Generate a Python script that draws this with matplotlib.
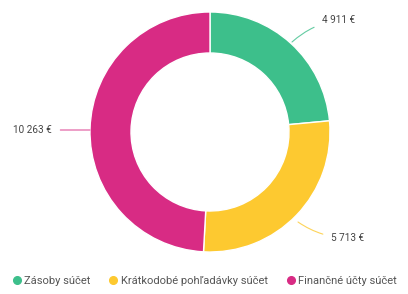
import matplotlib.pyplot as plt
from matplotlib.lines import Line2D

plt.rcParams['font.family'] = ['Roboto', 'DejaVu Sans']

categories = ['Zásoby súčet', 'Krátkodobé pohľadávky súčet', 'Finančné účty súčet']
values = [4911, 5713, 10263]
value_labels = ['4 911 €', '5 713 €', '10 263 €']
colors = ['#3dbf8b', '#fdc930', '#d82b84']

W, H = 408, 294
fig = plt.figure(figsize=(W / 100, H / 100), dpi=100)
ax = fig.add_axes([0, 0, 1, 1])
ax.set_xlim(0, W)
ax.set_ylim(0, H)
ax.set_aspect('equal')
ax.axis('off')

cx, cy, R = 210, H - 132, 120
ax.pie(values, colors=colors, startangle=90, counterclock=False,
       center=(cx, cy), radius=R,
       wedgeprops=dict(width=41, edgecolor='white', linewidth=1))
ax.set_xlim(0, W)
ax.set_ylim(0, H)

txt = dict(fontsize=7.2, color='#444444', va='center')
# green label, curved leader
ax.annotate(value_labels[0], xy=(292, H - 42), xytext=(322, H - 20),
            ha='left', **txt,
            arrowprops=dict(arrowstyle='-', color=colors[0], lw=0.8, alpha=0.8,
                            shrinkA=4, shrinkB=0,
                            connectionstyle='arc3,rad=0.15'))
# yellow label
ax.annotate(value_labels[1], xy=(298, H - 222), xytext=(331, H - 238),
            ha='left', **txt,
            arrowprops=dict(arrowstyle='-', color=colors[1], lw=0.8, alpha=0.8,
                            shrinkA=4, shrinkB=0,
                            connectionstyle='arc3,rad=-0.15'))
# magenta label
ax.annotate(value_labels[2], xy=(90, H - 130), xytext=(52, H - 130),
            ha='right', **txt,
            arrowprops=dict(arrowstyle='-', color=colors[2], lw=0.8, alpha=0.8,
                            shrinkA=4, shrinkB=0))

handles = [Line2D([], [], marker='o', linestyle='none', markersize=5.5,
                  markerfacecolor=c, markeredgecolor=c) for c in colors]
fig.legend(handles, categories, loc='center', bbox_to_anchor=(0.5, 1 - 281 / H),
           ncol=3, frameon=False, fontsize=8, labelcolor='#555555',
           handletextpad=0.15, columnspacing=1.6, handlelength=1.0)

fig.savefig('out.png', dpi=100, facecolor='white')
